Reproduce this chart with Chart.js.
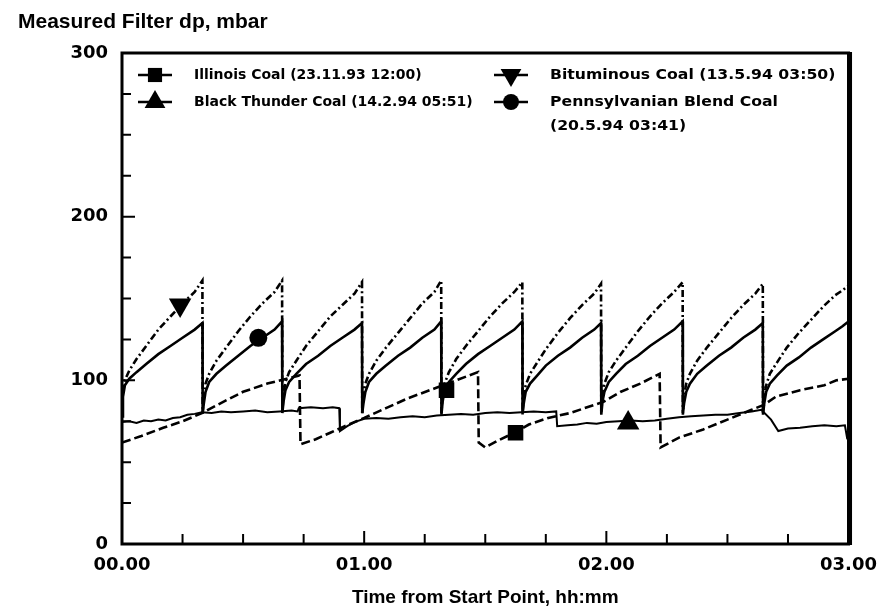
<!DOCTYPE html>
<html>
<head>
<meta charset="utf-8">
<title>Measured Filter dp</title>
<script src="https://cdn.jsdelivr.net/npm/chart.js@4.4.1/dist/chart.umd.min.js"></script>
<style>
  html, body { margin: 0; padding: 0; background: #fff; }
  #wrap { width: 888px; height: 611px; }
</style>
</head>
<body>
<div id="wrap"><canvas id="dpChart" width="888" height="611"></canvas></div>
<script>
// values: time in hours, dp in mbar

// cleaning cycle time grid shared by the two sawtooth traces
const cycleTime = [0, 0.004, 0.012, 0.03, 0.06, 0.1, 0.15, 0.2, 0.25, 0.3, 0.332, 0.333,
  0.338, 0.345, 0.36, 0.39, 0.43, 0.48, 0.53, 0.58, 0.63, 0.661, 0.662,
  0.667, 0.675, 0.69, 0.72, 0.76, 0.81, 0.86, 0.91, 0.96, 0.991, 0.992,
  0.997, 1.005, 1.02, 1.05, 1.09, 1.14, 1.19, 1.24, 1.29, 1.318, 1.319,
  1.324, 1.332, 1.35, 1.38, 1.42, 1.47, 1.52, 1.57, 1.62, 1.653, 1.654,
  1.659, 1.667, 1.685, 1.715, 1.75, 1.8, 1.85, 1.9, 1.95, 1.978, 1.979,
  1.984, 1.992, 2.01, 2.04, 2.08, 2.13, 2.18, 2.23, 2.28, 2.315, 2.316,
  2.321, 2.33, 2.345, 2.375, 2.415, 2.465, 2.515, 2.565, 2.615, 2.646, 2.647,
  2.652, 2.66, 2.675, 2.705, 2.745, 2.795, 2.845, 2.895, 2.945, 2.975, 3.0];

const pennDp = [78, 90, 97, 101, 105, 110, 116, 121, 126, 131, 135, 80,
  86, 93, 99, 104, 109, 115, 121, 126, 131, 136, 80,
  87, 94, 99, 104, 110, 115, 121, 126, 131, 135, 80,
  86, 93, 99, 104, 109, 115, 120, 126, 131, 136, 79,
  87, 94, 99, 104, 110, 116, 121, 126, 131, 136, 80,
  86, 93, 98, 103, 109, 115, 120, 126, 131, 135, 79,
  87, 93, 99, 104, 110, 115, 121, 126, 131, 136, 80,
  86, 93, 98, 104, 109, 115, 120, 126, 131, 135, 79,
  86, 93, 98, 103, 109, 114, 120, 125, 130, 133, 136];

const bitDp = [84, 95, 100, 106, 113, 121, 131, 139, 147, 154, 161, 80,
  91, 98, 104, 112, 120, 130, 139, 147, 154, 161, 80,
  92, 99, 105, 112, 121, 130, 139, 146, 153, 160, 79,
  91, 98, 104, 112, 120, 129, 138, 147, 154, 161, 80,
  92, 98, 105, 113, 121, 130, 139, 147, 154, 160, 79,
  91, 97, 104, 111, 119, 129, 138, 146, 153, 159, 80,
  92, 98, 105, 112, 120, 130, 139, 147, 154, 160, 79,
  91, 98, 104, 112, 120, 129, 138, 146, 153, 159, 80,
  91, 97, 104, 111, 120, 129, 137, 145, 152, 155, 158];

const illinoisTime = [0, 0.08, 0.17, 0.25, 0.33, 0.42, 0.5, 0.6, 0.68, 0.733,
  0.737, 0.8, 0.86, 0.92, 1.0, 1.09, 1.18, 1.29, 1.38, 1.47,
  1.473, 1.5, 1.55, 1.62, 1.68, 1.76, 1.85, 1.93, 1.99, 2.06,
  2.14, 2.22, 2.224, 2.3, 2.4, 2.5, 2.6, 2.65, 2.7, 2.8,
  2.9, 2.95, 3.0];
const illinoisDp = [62, 66, 71, 75, 80, 87, 93, 98, 101, 103,
  61, 64, 68, 72, 77, 83, 89, 95, 100, 105,
  62, 59, 63, 68, 73, 77, 80, 84, 87, 93,
  98, 104, 59, 65, 70, 76, 82, 85, 90, 94,
  97, 100, 101];

const thunderTime = [0, 0.03, 0.06, 0.09, 0.12, 0.15, 0.18, 0.21, 0.24, 0.27,
  0.3, 0.33, 0.37, 0.41, 0.45, 0.5, 0.55, 0.6, 0.65, 0.7,
  0.725, 0.73, 0.78, 0.83, 0.87, 0.897, 0.9, 0.93, 0.96, 1.0,
  1.05, 1.1, 1.15, 1.2, 1.25, 1.3, 1.35, 1.4, 1.45, 1.5,
  1.55, 1.6, 1.65, 1.7, 1.75, 1.793, 1.797, 1.84, 1.88, 1.92,
  1.96, 2.0, 2.05, 2.1, 2.15, 2.2, 2.25, 2.3, 2.35, 2.4,
  2.45, 2.5, 2.55, 2.6, 2.64, 2.68, 2.71, 2.75, 2.8, 2.85,
  2.9, 2.95, 2.985, 2.995];
const thunderDp = [74.5, 75, 74, 75.5, 75, 76, 75.5, 77, 77.5, 79,
  79.5, 80.5, 80, 81, 80.5, 81, 81.5, 80.5, 81, 81.5,
  81, 83, 83.5, 83, 83.5, 83, 69, 72, 74.5, 76.5,
  77, 76.5, 77.5, 78, 77.5, 78.5, 79, 79.5, 79, 80,
  80.5, 80, 80.5, 81, 80.5, 81, 72, 72.5, 73, 74,
  73.5, 74.5, 75, 75.5, 75, 75.5, 76.5, 77.5, 78, 78.5,
  79, 79, 80, 81, 82, 76, 69, 70.5, 71, 72,
  72.5, 72, 72.5, 64];

// symbols sitting on the traces
const illinoisMarkTime = [1.34, 1.625];
const illinoisMarkDp = [94, 68];
const thunderMarkTime = [2.09];
const thunderMarkDp = [74];
const bitMarkTime = [0.24];
const bitMarkDp = [146];
const pennMarkTime = [0.563];
const pennMarkDp = [126];

const xTickLabels = ['00.00', '01.00', '02.00', '03.00'];
const yTickLabels = ['0', '100', '200', '300'];
const legendLabels = [
  ['Illinois Coal (23.11.93 12:00)'],
  ['Black Thunder Coal (14.2.94 05:51)'],
  ['Bituminous Coal (13.5.94 03:50)'],
  ['Pennsylvanian Blend Coal', '(20.5.94 03:41)']
];
const yTitle = 'Measured Filter dp, mbar';
const xTitle = 'Time from Start Point, hh:mm';

const WIDE = "'DejaVu Sans', sans-serif";
const NARROW = "'Liberation Sans', Arial, sans-serif";

function toPoints(xs, ys) {
  return xs.map((x, i) => ({ x: x, y: ys[i] }));
}

function drawMark(ctx, style, x, y, r) {
  ctx.beginPath();
  if (style === 'rect') {
    const s = r * Math.SQRT1_2;
    ctx.rect(x - s, y - s, 2 * s, 2 * s);
  } else if (style === 'circle') {
    ctx.arc(x, y, r, 0, Math.PI * 2);
  } else {
    const d = style === 'triangle' ? 1 : -1;
    ctx.moveTo(x, y - d * r);
    ctx.lineTo(x + r * 0.866, y + d * r / 2);
    ctx.lineTo(x - r * 0.866, y + d * r / 2);
    ctx.closePath();
  }
  ctx.fill();
}

// frame + inward ticks like the original plot
const framePlugin = {
  id: 'framePlugin',
  afterDatasetsDraw(chart) {
    const { ctx, chartArea: a, scales } = chart;
    ctx.save();
    ctx.strokeStyle = '#000';
    ctx.lineWidth = 2;
    ctx.beginPath();
    scales.y.ticks.forEach(t => {
      const py = scales.y.getPixelForValue(t.value);
      const len = t.value % 100 === 0 ? 13 : 9;
      ctx.moveTo(a.left, py);
      ctx.lineTo(a.left + len, py);
    });
    scales.x.ticks.forEach(t => {
      const px = scales.x.getPixelForValue(t.value);
      const len = t.value % 1 === 0 ? 13 : 10;
      ctx.moveTo(px, a.bottom);
      ctx.lineTo(px, a.bottom - len);
    });
    ctx.stroke();
    ctx.lineWidth = 3;
    ctx.strokeRect(a.left, a.top, a.right - a.left, a.bottom - a.top);
    ctx.lineWidth = 5;
    ctx.beginPath();
    ctx.moveTo(a.right + 1, a.top - 1);
    ctx.lineTo(a.right + 1, a.bottom + 1);
    ctx.stroke();

    ctx.fillStyle = '#000';
    ctx.font = 'bold 21px ' + NARROW;
    ctx.textBaseline = 'middle';
    ctx.textAlign = 'left';
    ctx.fillText(yTitle, 18, 22);
    ctx.restore();
  }
};

const legendPlugin = {
  id: 'legendPlugin',
  afterDatasetsDraw(chart) {
    const ctx = chart.ctx;
    const slots = [
      { x: 138, y: 75, style: 'rect', r: 10, stretch: 1 },
      { x: 138, y: 102, style: 'triangle', r: 12, stretch: 1 },
      { x: 494, y: 75, style: 'triangleDown', r: 12, stretch: 1.12 },
      { x: 494, y: 102, style: 'circle', r: 8, stretch: 1.12 }
    ];
    ctx.save();
    ctx.fillStyle = '#000';
    ctx.strokeStyle = '#000';
    ctx.textBaseline = 'middle';
    ctx.textAlign = 'left';
    ctx.font = 'bold 14px ' + WIDE;
    slots.forEach((s, i) => {
      ctx.lineWidth = 2.5;
      ctx.beginPath();
      ctx.moveTo(s.x, s.y);
      ctx.lineTo(s.x + 34, s.y);
      ctx.stroke();
      drawMark(ctx, s.style, s.x + 17, s.y, s.r);
      legendLabels[i].forEach((line, j) => {
        ctx.save();
        ctx.translate(s.x + 56, s.y + j * 24);
        ctx.scale(s.stretch, 1);
        ctx.fillText(line, 0, 0);
        ctx.restore();
      });
    });
    ctx.restore();
  }
};

const markerPoint = (style, r, rot) => ({
  showLine: false,
  pointStyle: style,
  pointRadius: r,
  pointRotation: rot || 0,
  pointBackgroundColor: '#000',
  pointBorderColor: '#000',
  pointBorderWidth: 0
});

new Chart(document.getElementById('dpChart'), {
  type: 'line',
  data: {
    datasets: [
      { label: 'Pennsylvanian Blend Coal', data: toPoints(cycleTime, pennDp),
        borderColor: '#000', borderWidth: 2.6 },
      { label: 'Bituminous Coal', data: toPoints(cycleTime, bitDp),
        borderColor: '#000', borderWidth: 2.6, borderDash: [7, 3, 2, 3] },
      { label: 'Illinois Coal', data: toPoints(illinoisTime, illinoisDp),
        borderColor: '#000', borderWidth: 2.6, borderDash: [9, 4] },
      { label: 'Black Thunder Coal', data: toPoints(thunderTime, thunderDp),
        borderColor: '#000', borderWidth: 2 },
      Object.assign({ label: 'Illinois mark', data: toPoints(illinoisMarkTime, illinoisMarkDp) }, markerPoint('rect', 11)),
      Object.assign({ label: 'Black Thunder mark', data: toPoints(thunderMarkTime, thunderMarkDp) }, markerPoint('triangle', 13)),
      Object.assign({ label: 'Bituminous mark', data: toPoints(bitMarkTime, bitMarkDp) }, markerPoint('triangle', 13, 180)),
      Object.assign({ label: 'Pennsylvanian mark', data: toPoints(pennMarkTime, pennMarkDp) }, markerPoint('circle', 9))
    ]
  },
  options: {
    responsive: false,
    animation: false,
    devicePixelRatio: 1,
    layout: { padding: { top: 53, right: 26, left: 0, bottom: 0 } },
    elements: { point: { radius: 0 }, line: { tension: 0 } },
    plugins: { legend: { display: false }, tooltip: { enabled: false } },
    scales: {
      x: {
        type: 'linear', min: 0, max: 3,
        grid: { display: false, drawTicks: false },
        border: { display: false },
        ticks: {
          stepSize: 0.25, autoSkip: false, maxRotation: 0, padding: 11,
          color: '#000', font: { family: WIDE, size: 18, weight: 'bold' },
          callback: v => (v % 1 === 0 ? xTickLabels[v] : '')
        },
        title: {
          display: true, text: xTitle, color: '#000',
          font: { family: NARROW, size: 19, weight: 'bold' },
          padding: { top: 0, bottom: 2 }
        },
        afterFit: s => { s.height = 67; }
      },
      y: {
        type: 'linear', min: 0, max: 300,
        grid: { display: false, drawTicks: false },
        border: { display: false },
        ticks: {
          stepSize: 25, autoSkip: false, padding: 14,
          color: '#000', font: { family: WIDE, size: 18, weight: 'bold' },
          callback: v => (v % 100 === 0 ? yTickLabels[v / 100] : '')
        },
        afterFit: s => { s.width = 122; }
      }
    }
  },
  plugins: [framePlugin, legendPlugin]
});
</script>
</body>
</html>
